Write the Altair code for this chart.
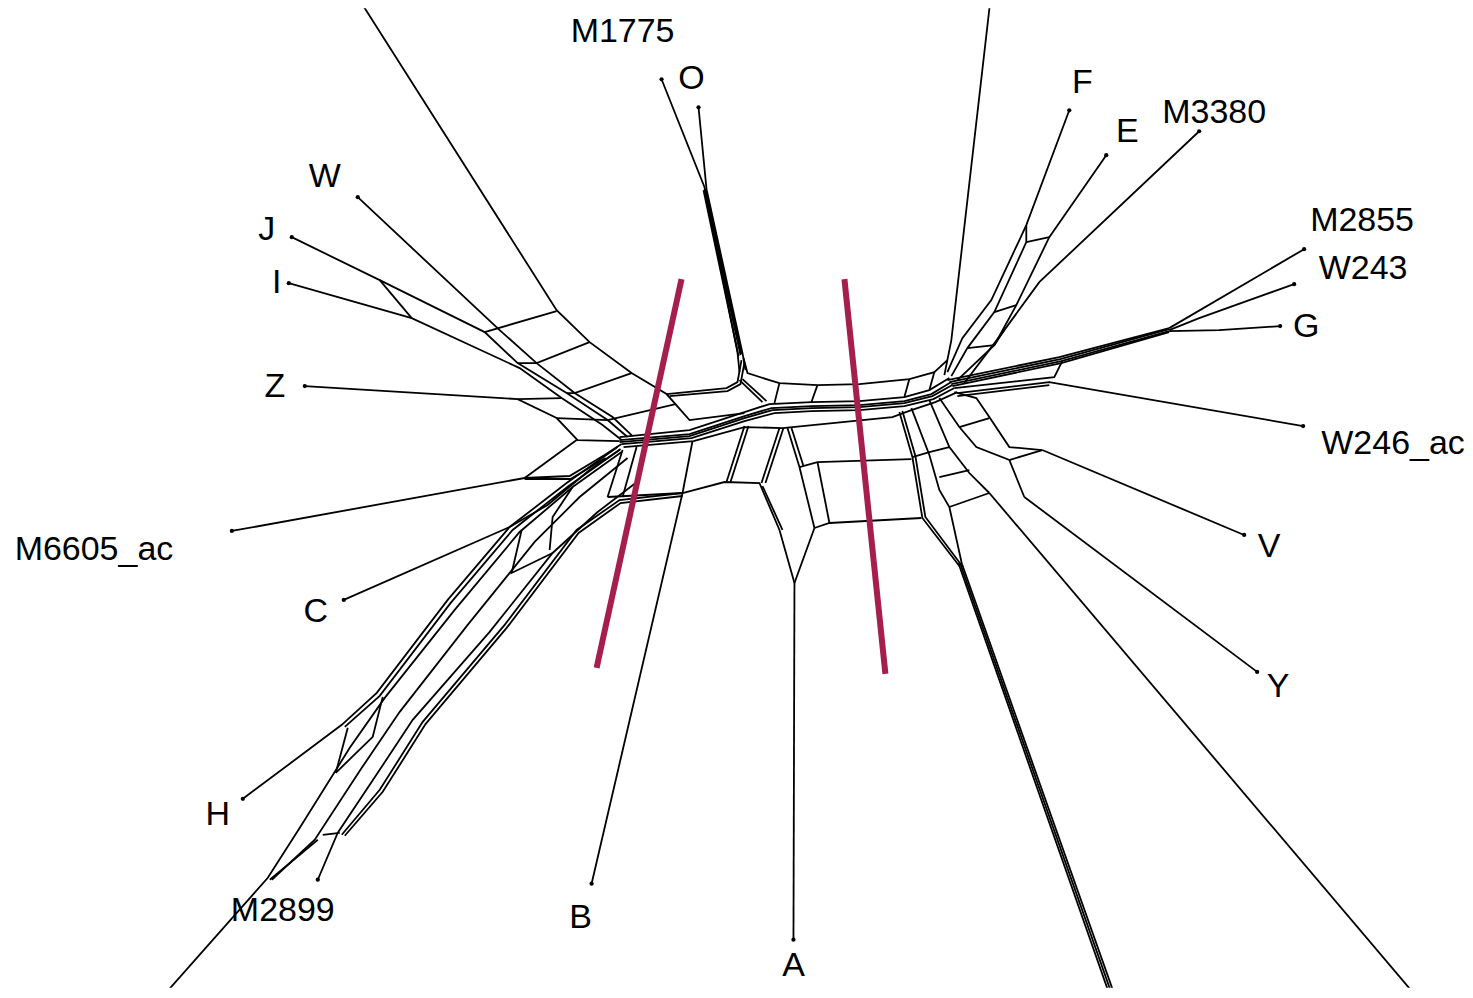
import altair as alt
import pandas as pd

# ---- leaf tips (taxa) ----
leaf_names = ["M1775", "O", "F", "E", "M3380", "M2855", "W243", "G", "W246_ac", "V", "Y",
              "A", "B", "M2899", "H", "C", "M6605_ac", "Z", "I", "J", "W"]
leaf_x = [662, 699, 1070, 1107, 1200, 1305, 1295, 1281, 1304, 1245, 1258,
          794, 592, 318, 243, 344, 232, 305, 289, 292, 358]
leaf_y = [79, 107, 110, 155, 131, 249, 284, 326, 426, 535, 672,
          940, 884, 880, 799, 600, 531, 386, 283, 237, 197]
label_x = [623, 692, 1083, 1128, 1215, 1363, 1364, 1307, 1394, 1270, 1279,
           794, 581, 283, 218, 316, 94, 275, 277, 267, 325]
label_y = [32, 79, 83, 132, 113, 221, 269, 327, 444, 547, 687,
           966, 918, 911, 815, 612, 550, 387, 283, 230, 177]

# ---- network edges (polylines in drawing units) ----
e_m1775 = [(662, 79), (705, 187), (738, 352), (740, 372)]
e_o = [(699, 107), (707, 189), (743, 353), (746, 370)]
e_o2 = [(705, 189), (741, 355)]
e_o3 = [(706, 189), (742, 354)]
e_o4 = [(704, 190), (739, 356)]
e_o_curve = [(667, 394), (727, 388), (738, 382), (742, 360)]
e_o_curve2 = [(670, 396), (728, 391), (741, 384), (745, 362)]
e_arc_top = [(744, 358), (748, 373), (770, 380), (780, 383), (818, 385), (860, 384), (910, 379), (935, 372), (948, 360)]
e_arc_in = [(740, 380), (763, 402)]
e_arc_in2 = [(743, 379), (767, 401)]
e_arc_r1 = [(780, 383), (775, 403)]
e_arc_r2 = [(818, 385), (812, 402)]
e_arc_r3 = [(910, 379), (905, 397)]
e_arc_r4 = [(935, 372), (930, 390)]
e_band_a = [(620, 437), (690, 430), (745, 412), (770, 404), (812, 402), (860, 401), (905, 397), (930, 390), (950, 378)]
e_band_b = [(620, 440), (690, 434), (745, 416), (772, 408), (812, 406), (860, 405), (905, 401), (932, 394), (952, 382)]
e_band_b2 = [(620, 442), (690, 436), (745, 418), (773, 410), (812, 408), (860, 407), (905, 403), (933, 396), (953, 385)]
e_band_c = [(622, 444), (692, 438), (745, 421), (775, 413), (812, 411), (860, 410), (905, 406), (934, 399), (955, 388)]
e_band_d = [(624, 447), (694, 441), (745, 427), (783, 428), (893, 417), (912, 410), (936, 402), (958, 392)]

# upper-left fan (W, J, I, Z and the off-frame branch)
e_top_left = [(360, 0), (557, 310), (590, 342), (632, 373), (667, 394), (690, 420), (745, 413)]
e_w = [(358, 197), (500, 330), (537, 363), (575, 393), (613, 417), (633, 436)]
e_j = [(292, 237), (380, 280), (485, 332), (518, 363), (567, 393), (608, 420), (628, 437)]
e_i = [(289, 283), (412, 318), (520, 368), (562, 398), (603, 425), (622, 440)]
e_ji = [(380, 280), (412, 318)]
e_r1 = [(485, 332), (557, 311)]
e_r2 = [(518, 363), (537, 363), (590, 342)]
e_r3 = [(567, 393), (575, 393), (632, 373)]
e_r4 = [(557, 418), (608, 420), (676, 404)]
e_z = [(305, 386), (518, 399), (557, 418), (578, 440), (620, 441)]
e_zr = [(518, 399), (562, 398)]

# lower-left band (M6605_ac, C, H, M2899 and off-frame branch)
e_m6605 = [(232, 531), (525, 478), (570, 476), (605, 455), (622, 444)]
e_m6605b = [(525, 479), (571, 479), (606, 458)]
e_m6605_up = [(525, 478), (577, 440)]
e_c = [(344, 600), (510, 527), (548, 505), (590, 470), (620, 450)]
e_b1 = [(618, 447), (567, 483), (510, 527), (448, 600), (377, 693), (342, 725), (243, 799)]
e_b1b = [(621, 449), (569, 486), (513, 530), (451, 603), (380, 696), (345, 727)]
e_b2 = [(622, 452), (573, 487), (520, 532), (455, 610), (385, 698), (350, 748), (300, 828), (268, 878), (160, 1000)]
e_b3 = [(628, 458), (580, 497), (535, 542), (468, 625), (400, 712), (362, 768), (315, 840), (272, 880)]
e_b4 = [(640, 480), (598, 512), (553, 553), (490, 632), (413, 720), (372, 782), (338, 833), (318, 880)]
e_b5 = [(683, 493), (620, 500), (577, 530), (505, 625), (423, 722), (380, 790), (342, 835)]
e_b5b = [(683, 496), (621, 503), (579, 533), (507, 628), (426, 724), (383, 792), (345, 836)]
e_z1 = [(522, 530), (512, 573), (553, 553)]
e_z2 = [(573, 487), (553, 517), (550, 550)]
e_z3 = [(383, 697), (373, 737), (336, 773)]
e_z4 = [(348, 728), (336, 773)]
e_z5 = [(323, 835), (340, 833)]
e_z6 = [(318, 840), (270, 880)]
e_z7 = [(623, 450), (608, 497)]
e_z8 = [(637, 447), (623, 497)]

# lower-centre boxes (A, B)
e_lb1 = [(608, 497), (683, 493), (725, 482), (760, 483), (780, 530), (795, 583)]
e_lb1b = [(763, 486), (783, 530)]
e_lb2 = [(693, 441), (683, 493)]
e_lb3 = [(745, 426), (727, 482)]
e_lb3b = [(749, 426), (731, 482)]
e_lb4 = [(780, 428), (762, 483)]
e_lb4b = [(784, 428), (766, 483)]
e_lb5 = [(788, 428), (800, 467), (815, 528), (795, 583)]
e_lb5b = [(792, 428), (804, 466)]
e_a = [(794, 940), (795, 583)]
e_b = [(592, 884), (683, 493)]
e_box_top = [(800, 467), (818, 462), (912, 459)]
e_box_bot = [(815, 528), (830, 523), (922, 518)]
e_box_left = [(818, 462), (830, 523)]

# lower-right fan (V, Y and off-frame branches)
e_c1 = [(900, 412), (913, 457), (923, 518), (960, 566)]
e_c1b = [(903, 411), (916, 456), (926, 517), (962, 565)]
e_c2 = [(912, 408), (930, 455), (940, 490), (950, 507), (963, 566)]
e_c3 = [(930, 400), (950, 447), (970, 473), (990, 493)]
e_c4 = [(940, 398), (960, 427), (977, 447), (1010, 460), (1025, 497)]
e_c5 = [(955, 392), (977, 398), (990, 417), (1010, 447), (1043, 450)]
e_cr1 = [(913, 457), (930, 452), (950, 447)]
e_cr2 = [(940, 477), (970, 470)]
e_cr3 = [(950, 507), (990, 493)]
e_cr4 = [(960, 427), (990, 418)]
e_cr5 = [(1010, 460), (1043, 450)]
e_down1 = [(959, 563), (1112, 1000)]
e_down2 = [(961, 564), (1114.5, 1000)]
e_down3 = [(963, 565), (1117, 1000)]
e_v = [(1245, 535), (1043, 450)]
e_y = [(1258, 672), (1025, 497)]
e_br = [(1420, 1000), (990, 493)]

# right bundle (G group, W246_ac)
e_g1 = [(948, 380), (1060, 357), (1170, 328)]
e_g1b = [(950, 382), (1061, 359), (1170, 329)]
e_g2 = [(952, 384), (1062, 361), (1170, 331)]
e_g2b = [(953, 386), (1062, 363), (1170, 332)]
e_g3 = [(955, 388), (1055, 377), (1063, 361)]
e_g4 = [(958, 393), (1050, 382), (1304, 426)]
e_g5 = [(958, 396), (1050, 385)]
e_m2855 = [(1305, 249), (1170, 328)]
e_w243 = [(1295, 284), (1200, 318), (1170, 330)]
e_g = [(1281, 326), (1220, 330), (1170, 331)]

# upper-right fan (F, E, M3380 and off-frame branch)
e_f = [(1070, 110), (1027, 225), (992, 300), (963, 338), (948, 372)]
e_f2 = [(1027, 225), (1027, 242), (995, 312), (968, 348), (952, 376)]
e_e = [(1107, 155), (1050, 237), (1017, 305), (995, 345), (958, 380)]
e_ef = [(1050, 237), (1027, 242)]
e_er = [(995, 312), (1017, 305)]
e_m3380 = [(1200, 131), (1040, 282), (1005, 330), (965, 383)]
e_mr = [(968, 348), (995, 345), (1005, 330)]
e_top_right = [(991, 0), (952, 340), (945, 375)]

edges = [e_m1775, e_o, e_o2, e_o3, e_o4, e_o_curve, e_o_curve2, e_arc_top, e_arc_in, e_arc_in2,
         e_arc_r1, e_arc_r2, e_arc_r3, e_arc_r4,
         e_band_a, e_band_b, e_band_b2, e_band_c, e_band_d,
         e_top_left, e_w, e_j, e_i, e_ji, e_r1, e_r2, e_r3, e_r4, e_z, e_zr,
         e_m6605, e_m6605b, e_m6605_up, e_c, e_b1, e_b1b, e_b2, e_b3, e_b4, e_b5, e_b5b,
         e_z1, e_z2, e_z3, e_z4, e_z5, e_z6, e_z7, e_z8,
         e_lb1, e_lb1b, e_lb2, e_lb3, e_lb3b, e_lb4, e_lb4b, e_lb5, e_lb5b, e_a, e_b,
         e_box_top, e_box_bot, e_box_left,
         e_c1, e_c1b, e_c2, e_c3, e_c4, e_c5, e_cr1, e_cr2, e_cr3, e_cr4, e_cr5,
         e_down1, e_down2, e_down3, e_v, e_y, e_br,
         e_g1, e_g1b, e_g2, e_g2b, e_g3, e_g4, e_g5, e_m2855, e_w243, e_g,
         e_f, e_f2, e_e, e_ef, e_er, e_m3380, e_mr, e_top_right]

# ---- highlighted split lines ----
split_x1 = [682, 845]
split_y1 = [279, 279]
split_x2 = [597, 886]
split_y2 = [668, 674]

rows = []
for k, path in enumerate(edges):
    for j, (px, py) in enumerate(path):
        rows.append({"edge": k, "ord": j, "x": px, "y": py})
edge_df = pd.DataFrame(rows)
leaf_df = pd.DataFrame({"name": leaf_names, "x": leaf_x, "y": leaf_y})
label_df = pd.DataFrame({"name": leaf_names, "x": label_x, "y": label_y})
split_df = pd.DataFrame({"x": split_x1, "y": split_y1, "x2": split_x2, "y2": split_y2})

W, H = 1455, 980
xs = alt.Scale(domain=[8, 8 + W], nice=False, zero=False)
ys = alt.Scale(domain=[8, 8 + H], nice=False, zero=False, reverse=True)
X = lambda f="x": alt.X(f"{f}:Q", scale=xs, axis=None)
Y = lambda f="y": alt.Y(f"{f}:Q", scale=ys, axis=None)

net = alt.Chart(edge_df).mark_line(color="black", strokeWidth=1.8, clip=True).encode(
    x=X(), y=Y(), detail="edge:N", order="ord:Q")
dots = alt.Chart(leaf_df).mark_circle(color="black", size=18, opacity=1).encode(x=X(), y=Y())
splits = alt.Chart(split_df).mark_rule(color="#A61E4D", strokeWidth=6).encode(
    x=X(), y=Y(), x2="x2:Q", y2="y2:Q")
labels = alt.Chart(label_df).mark_text(font="Liberation Sans", fontSize=34, color="black",
                                       align="center", baseline="middle").encode(
    x=X(), y=Y(), text="name:N")

chart = alt.layer(net, splits, dots, labels).properties(
    width=W, height=H, padding=0
).configure_view(stroke=None)

chart.save("out.html", embed_options={"renderer": "svg", "actions": False})
